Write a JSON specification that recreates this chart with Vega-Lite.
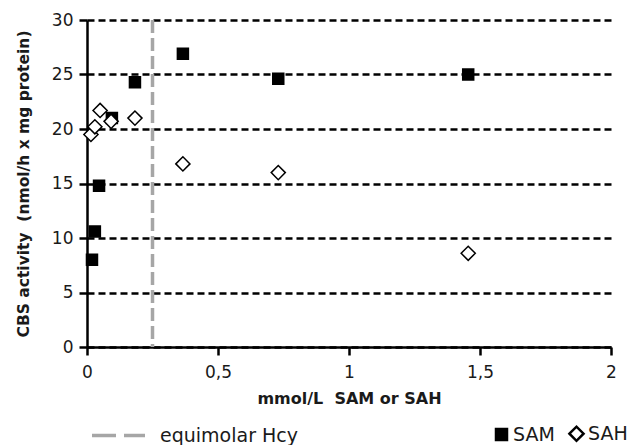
{
  "$schema": "https://vega.github.io/schema/vega-lite/v6.json",
  "width": 524,
  "height": 327,
  "autosize": {"type": "none"},
  "padding": {"left": 87, "top": 20, "right": 16, "bottom": 98},
  "background": "white",
  "config": {
    "view": {"stroke": null},
    "font": "DejaVu Sans",
    "axis": {"labelFont": "DejaVu Sans", "titleFont": "DejaVu Sans", "labelColor": "#1a1a1a", "titleColor": "#1a1a1a"},
    "legend": {"padding": 0}
  },
  "datasets": {
    "pts": [
      {"conc": 0.019, "activity": 8.0, "series": "SAM"},
      {"conc": 0.03, "activity": 10.6, "series": "SAM"},
      {"conc": 0.046, "activity": 14.8, "series": "SAM"},
      {"conc": 0.095, "activity": 21.0, "series": "SAM"},
      {"conc": 0.183, "activity": 24.3, "series": "SAM"},
      {"conc": 0.366, "activity": 26.9, "series": "SAM"},
      {"conc": 0.73, "activity": 24.6, "series": "SAM"},
      {"conc": 1.455, "activity": 25.0, "series": "SAM"},
      {"conc": 0.015, "activity": 19.5, "series": "SAH"},
      {"conc": 0.03, "activity": 20.2, "series": "SAH"},
      {"conc": 0.05, "activity": 21.7, "series": "SAH"},
      {"conc": 0.092, "activity": 20.7, "series": "SAH"},
      {"conc": 0.183, "activity": 21.0, "series": "SAH"},
      {"conc": 0.366, "activity": 16.8, "series": "SAH"},
      {"conc": 0.73, "activity": 16.0, "series": "SAH"},
      {"conc": 1.455, "activity": 8.6, "series": "SAH"}
    ],
    "ref": [{"conc": 0.25, "label": "equimolar Hcy"}]
  },
  "layer": [
    {
      "data": {"name": "ref"},
      "mark": {"type": "rule", "strokeWidth": 3.5, "strokeDash": [13, 5]},
      "encoding": {
        "x": {"field": "conc", "type": "quantitative", "scale": {"domain": [0, 2]}},
        "stroke": {
          "field": "label", "type": "nominal",
          "scale": {"range": ["#a6a6a6"]},
          "legend": {
            "title": null, "orient": "none", "legendX": 3, "legendY": 387,
            "symbolType": "stroke", "symbolSize": 2809, "symbolStrokeWidth": 3.5, "symbolDash": [24, 8],
            "labelFont": "DejaVu Sans", "labelFontSize": 19, "labelColor": "#1a1a1a", "labelOffset": 13
          }
        }
      }
    },
    {
      "data": {"name": "pts"},
      "mark": {"type": "point", "filled": false, "stroke": "black", "strokeWidth": 1.5, "opacity": 1},
      "encoding": {
        "x": {
          "field": "conc", "type": "quantitative",
          "scale": {"domain": [0, 2]},
          "axis": {
            "title": "mmol/L\u00a0\u00a0SAM or SAH", "titleFontSize": 16, "titleFontWeight": "bold", "titlePadding": 10,
            "values": [0, 0.5, 1, 1.5, 2], "labelExpr": "replace(format(datum.value, '~g'), '.', ',')",
            "labelFontSize": 17, "labelPadding": 9, "labelFlush": false,
            "domainColor": "black", "domainWidth": 2.5, "tickColor": "black", "tickWidth": 2.5, "tickSize": 8,
            "grid": false
          }
        },
        "y": {
          "field": "activity", "type": "quantitative",
          "scale": {"domain": [0, 30]},
          "axis": {
            "title": "CBS activity\u00a0\u00a0(nmol/h x mg protein)", "titleFontSize": 15.5, "titleFontWeight": "bold", "titlePadding": 20,
            "values": [0, 5, 10, 15, 20, 25, 30], "labelFontSize": 17, "labelPadding": 6, "labelFlush": false,
            "domainColor": "black", "domainWidth": 2.5, "tickColor": "black", "tickWidth": 2.5, "tickSize": 8,
            "grid": true, "gridColor": "black", "gridWidth": 2.5, "gridDash": [7, 4], "gridOpacity": 1
          }
        },
        "shape": {
          "field": "series", "type": "nominal",
          "scale": {"domain": ["SAM", "SAH"], "range": ["square", "diamond"]},
          "legend": {
            "title": null, "orient": "none", "legendX": 405, "legendY": 404, "direction": "horizontal",
            "labelFont": "DejaVu Sans", "labelFontSize": 19, "labelColor": "#1a1a1a", "labelOffset": 2,
            "symbolStrokeWidth": 2.5, "symbolStrokeColor": "black", "columnPadding": 9
          }
        },
        "fill": {
          "field": "series", "type": "nominal",
          "scale": {"domain": ["SAM", "SAH"], "range": ["black", "white"]}
        },
        "size": {
          "field": "series", "type": "nominal",
          "scale": {"domain": ["SAM", "SAH"], "range": [121, 200]}
        }
      }
    }
  ]
}
